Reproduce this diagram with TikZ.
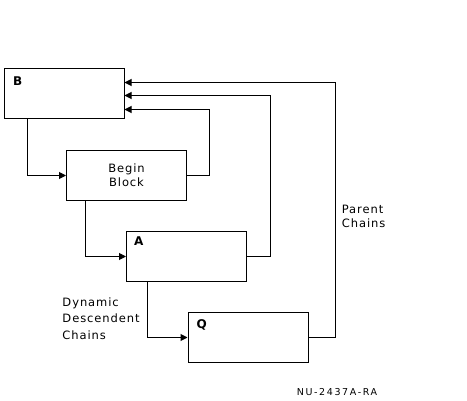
\documentclass[tikz,border=0pt]{standalone}
\usepackage{fontspec}
\setmainfont{DejaVu Sans}[LetterSpace=8]
\newfontfamily\figfont{DejaVu Sans}[LetterSpace=17]
\usetikzlibrary{arrows.meta,calc}
\tikzset{
  blk/.style={draw, line width=1pt, minimum width=120pt, minimum height=50pt, inner sep=0pt},
  conn/.style={line width=1pt},
  arr/.style={conn, -{Triangle[length=7pt,width=7pt]}},
  lbl/.style={inner sep=0pt, font=\fontsize{11.5}{14.5}\selectfont},
  tag/.style={inner sep=0pt, anchor=base west, font=\bfseries\fontsize{12}{13}\selectfont}
}
\begin{document}
\begin{tikzpicture}[x=1pt,y=-1pt]
\useasboundingbox (0,0) rectangle (467,401);
% boxes
\node[blk] (B)  at (64,94) {};
\node[blk] (BB) at (126.5,175.5) {};
\node[blk] (A)  at (186.5,256.5) {};
\node[blk] (Q)  at (248,337.5) {};
% box labels
\node[tag] (tB) at (13,85.5) {B};
\node[tag] (tA) at (134,245.5) {A};
\node[tag] (tQ) at (196.5,328.5) {Q};
\node[lbl, anchor=north, align=center, font=\fontsize{11.5}{14}\selectfont] (tBB) at (126.5,163.8) {Begin\\Block};
% free labels
\node[lbl, anchor=north west, align=left] (par) at (341.7,204.5) {Parent\\Chains};
\node[lbl, anchor=north west, align=left, font=\fontsize{11.5}{16.5}\selectfont] (dyn) at (62.3,297.2) {Dynamic\\Descendent\\Chains};
\node[inner sep=0pt, anchor=north west, font=\figfont\fontsize{9.5}{11}\selectfont] (fig) at (296.7,388) {NU-2437A-RA};
% entry points on B
\coordinate (b1) at ($(B.east)+(0,-11.5)$);
\coordinate (b2) at ($(B.east)+(0,1.5)$);
\coordinate (b3) at ($(B.east)+(0,15.5)$);
% descendant chains
\draw[arr] ($(B.south west)+(24,0)$) |- (BB.west);
\draw[arr] ($(BB.south west)+(19.5,0)$) |- (A.west);
\draw[arr] ($(A.south west)+(21.5,0)$) |- (Q.west);
% parent chains
\draw[arr] (BB.east) -- ++(22,0) |- (b3);
\draw[arr] (A.east) -- ++(23.5,0) |- (b2);
\draw[arr] (Q.east) -- ++(26.5,0) |- (b1);
\end{tikzpicture}
\end{document}
